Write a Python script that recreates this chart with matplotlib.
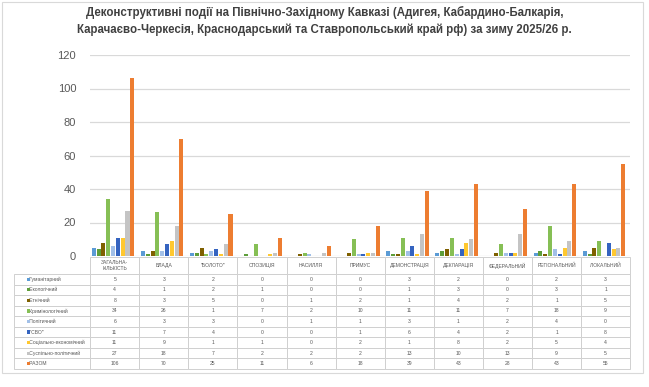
import matplotlib
matplotlib.use("Agg")
import matplotlib.pyplot as plt
import numpy as np
from matplotlib.patches import Rectangle

# categories (columns of the table / bar groups)
categories = ["ЗАГАЛЬНА-\nКІЛЬКІСТЬ", "ВЛАДА", "\"БОЛОТО\"", "ОПОЗИЦІЯ", "НАСИЛЛЯ",
              "ПРИМУС", "ДЕМОНСТРАЦІЯ", "ДЕКЛАРАЦІЯ", "ФЕДЕРАЛЬНИЙ",
              "РЕГІОНАЛЬНИЙ", "ЛОКАЛЬНИЙ"]

series_names = ["Гуманітарний", "Екологічний", "Етнічний", "Кримінологічний",
                "Політичний", "\"СВО\"", "Соціально-економічний",
                "Суспільно-політичний", "РАЗОМ"]

humanitarian = [5, 3, 2, 0, 0, 0, 3, 2, 0, 2, 3]
ecological = [4, 1, 2, 1, 0, 0, 1, 3, 0, 3, 1]
ethnic = [8, 3, 5, 0, 1, 2, 1, 4, 2, 1, 5]
criminological = [34, 26, 1, 7, 2, 10, 11, 11, 7, 18, 9]
political = [6, 3, 3, 0, 1, 1, 3, 1, 2, 4, 0]
svo = [11, 7, 4, 0, 0, 1, 6, 4, 2, 1, 8]
socio_economic = [11, 9, 1, 1, 0, 2, 1, 8, 2, 5, 4]
socio_political = [27, 18, 7, 2, 2, 2, 13, 10, 13, 9, 5]
total = [106, 70, 25, 11, 6, 18, 39, 43, 28, 43, 55]

series = [humanitarian, ecological, ethnic, criminological, political,
          svo, socio_economic, socio_political, total]
colors = ["#5B9BD5", "#5E9E3A", "#7F6000", "#86BF55", "#A2C0E8",
          "#3564C0", "#FFC830", "#C4C4C4", "#ED7D31"]

plt.rcParams['font.family'] = ['Liberation Sans', 'DejaVu Sans']

W, H = 649, 387
fig = plt.figure(figsize=(W / 100, H / 100), dpi=100)

def fig_rect(x0, y0, x1, y1):
    # pixel box (top-left origin) -> figure fraction rect
    return [x0 / W, 1 - y1 / H, (x1 - x0) / W, (y1 - y0) / H]

# outer frame
fig.patches.append(Rectangle((2 / W, 1 - 373 / H), 641 / W, 371 / H,
                             transform=fig.transFigure, fill=False,
                             edgecolor="#D9D9D9", linewidth=0.8))

fig.text(0.5, 1 - 6 / H,
         "Деконструктивні події на Північно-Західному Кавказі (Адигея, Кабардино-Балкарія,\n"
         "Карачаєво-Черкесія, Краснодарський та Ставропольський край рф) за зиму 2025/26 р.",
         ha="center", va="top", fontsize=8.3, fontweight="bold", color="#404040",
         linespacing=1.45)

ax = fig.add_axes(fig_rect(90, 55, 630, 256))
x = np.arange(len(categories))
n = len(series)
pitch = 0.098
bw = 0.082
for i, (vals, c) in enumerate(zip(series, colors)):
    ax.bar(x + (i - (n - 1) / 2) * pitch - 0.03, vals, width=bw, color=c, zorder=3)

ax.set_xlim(-0.5, len(categories) - 0.5)
ax.set_ylim(0, 120)
ax.set_yticks(np.arange(0, 121, 20))
ax.tick_params(axis="y", length=0, labelsize=8, labelcolor="#595959", pad=10)
ax.set_xticks([])
ax.grid(axis="y", color="#D9D9D9", linewidth=0.9, zorder=0)
for s in ax.spines.values():
    s.set_visible(False)

# data table under the chart
tax = fig.add_axes(fig_rect(23, 257, 630, 369))
tax.axis("off")
cell_text = [[str(v) for v in vals] for vals in series]
col_labels = [c for c in categories]
first_w = 67 / 607
other_w = 49 / 607
tbl = tax.table(cellText=cell_text, rowLabels=["      " + s for s in series_names],
                colLabels=col_labels, colWidths=[other_w] * len(categories),
                rowLoc="left", cellLoc="center", bbox=[first_w, 0, 1 - first_w, 1])
tbl.auto_set_font_size(False)
for (r, c), cell in tbl.get_celld().items():
    cell.set_edgecolor("#D0D0D0")
    cell.set_linewidth(0.7)
    cell.get_text().set_fontsize(3.6)
    cell.get_text().set_color("#595959")
    if c == -1:
        cell.set_width(first_w)
    if r == 0:
        cell.set_height(17)
    else:
        cell.set_height(10.55)

# legend keys in the row-label column
row_h = 95 / 112 / n
for i, c in enumerate(colors):
    yc = 95 / 112 - (i + 0.5) * row_h
    tax.add_patch(Rectangle((3.5 / 607, yc - 1.6 / 112), 3.2 / 607, 3.2 / 112,
                            facecolor=c, edgecolor="none", transform=tax.transAxes,
                            clip_on=False))

fig.savefig("out.png", dpi=100)
